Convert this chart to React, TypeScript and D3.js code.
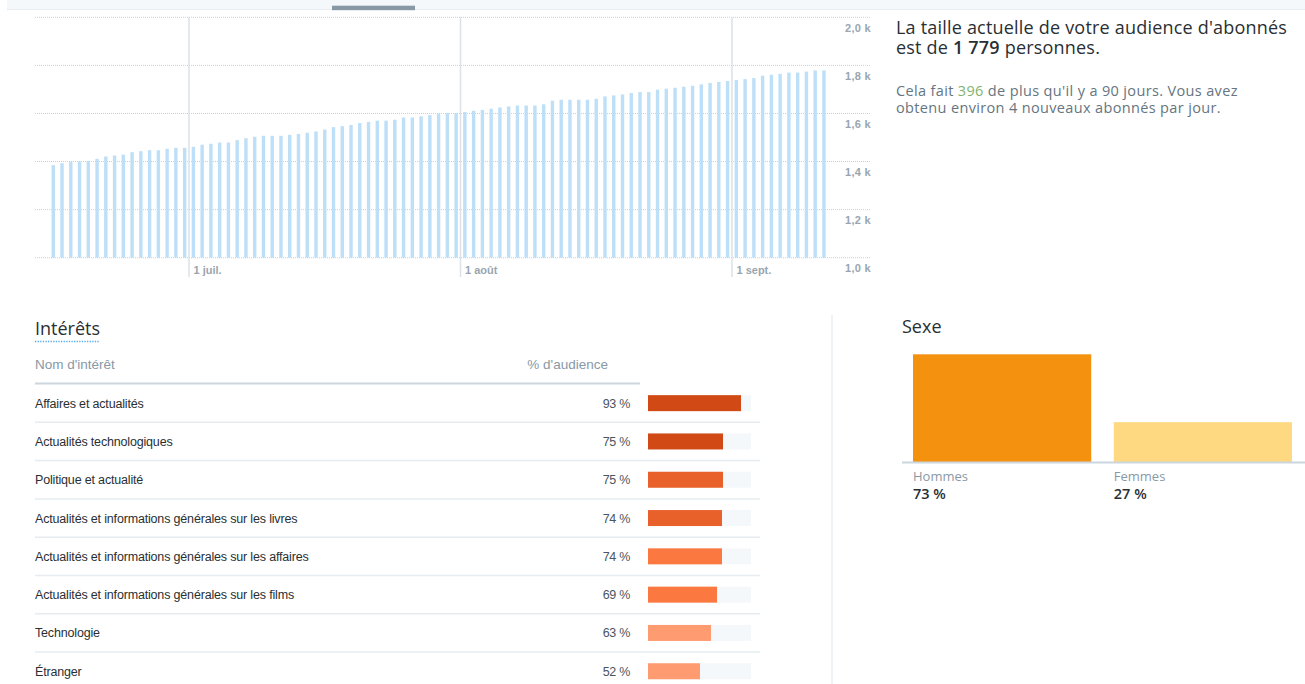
import React from "react";
import * as d3 from "d3";

// ---------- DATA ----------
const startDate = new Date(2015, 5, 15); // 15 juin
const followerCounts: number[] = [
  1385, 1393, 1399, 1399, 1403, 1411, 1421, 1425, 1429, 1439,
  1443, 1447, 1447, 1453, 1457, 1457, 1461, 1470, 1474, 1479,
  1479, 1489, 1497, 1503, 1507, 1507, 1507, 1511, 1515, 1520,
  1525, 1533, 1543, 1547, 1552, 1560, 1565, 1570, 1570, 1574,
  1583, 1583, 1588, 1593, 1599, 1602, 1602, 1606, 1611, 1615,
  1620, 1625, 1629, 1633, 1633, 1633, 1638, 1653, 1657, 1657,
  1657, 1657, 1661, 1671, 1675, 1679, 1685, 1689, 1689, 1699,
  1703, 1707, 1711, 1715, 1721, 1727, 1731, 1735, 1739, 1743,
  1747, 1757, 1761, 1765, 1770, 1770, 1774, 1779, 1779,
];
const yTicks: number[] = [1000, 1200, 1400, 1600, 1800, 2000];
const monthTicks: Date[] = [new Date(2015, 6, 1), new Date(2015, 7, 1), new Date(2015, 8, 1)];
const monthLabels: string[] = ["1 juil.", "1 août", "1 sept."];

const interestNames: string[] = [
  "Affaires et actualités",
  "Actualités technologiques",
  "Politique et actualité",
  "Actualités et informations générales sur les livres",
  "Actualités et informations générales sur les affaires",
  "Actualités et informations générales sur les films",
  "Technologie",
  "Étranger",
];
const interestPct: number[] = [93, 75, 75, 74, 74, 69, 63, 52];

const genderLabels: string[] = ["Hommes", "Femmes"];
const genderPct: number[] = [73, 27];

// ---------- STYLE ----------
const interestColors = ["#d14a15", "#d14a15", "#e8602a", "#e8602a", "#fb7941", "#fb7941", "#ff9b71", "#ff9b71"];
const genderColors = ["#f4910f", "#ffd882"];
const sans = "'Open Sans', 'Noto Sans', sans-serif";
const arial = "'Liberation Sans', Arial, sans-serif";

export default function App() {
  const dates = followerCounts.map((_, i) => d3.timeDay.offset(startDate, i));
  const x = d3
    .scaleTime()
    .domain([startDate, d3.timeDay.offset(startDate, followerCounts.length)])
    .range([48.9, 828.3]);
  const y = d3.scaleLinear().domain([1000, 2000]).range([257.7, 17.3]);
  const dayW = x(d3.timeDay.offset(startDate, 1)) - x(startDate);
  const barW = 3.4;

  const fmtK = (v: number) => (v / 1000).toFixed(1).replace(".", ",") + " k";

  const rowBand = d3.scaleBand<string>().domain(interestNames).range([384, 384 + 8 * 38.3]);
  const pctX = d3.scaleLinear().domain([0, 100]).range([0, 100]);

  const gX = d3.scaleBand<string>().domain(genderLabels).range([913, 1292]).paddingInner(0.1125);
  const gY = d3.scaleLinear().domain([0, 73]).range([462, 354.3]);

  return (
    <svg
      width={1305}
      height={684}
      style={{ position: "absolute", left: 0, top: 0, background: "#fff" }}
    >
      {/* top strip */}
      <rect x={7} y={0} width={1298} height={9} fill="#f5f8fa" />
      <line x1={7} x2={1305} y1={9.5} y2={9.5} stroke="#e6ecf0" strokeWidth={1} />
      <rect x={332} y={5.7} width={83} height={4.5} fill="#8899a6" />

      {/* horizontal gridlines */}
      {yTicks.map((t) => (
        <line
          key={"g" + t}
          x1={35}
          x2={870}
          y1={y(t)}
          y2={y(t)}
          stroke="#c8d0d6"
          strokeWidth={1}
          strokeDasharray="1,1"
        />
      ))}
      {/* bars */}
      {followerCounts.map((v, i) => (
        <rect
          key={"b" + i}
          x={x(dates[i]) + dayW / 2 - barW / 2}
          y={y(v)}
          width={barW}
          height={y(1000) - y(v)}
          fill="#bddff7"
        />
      ))}
      {/* month lines */}
      {monthTicks.map((d, i) => (
        <g key={"m" + i}>
          <line x1={x(d)} x2={x(d)} y1={17} y2={277} stroke="#dbe2e8" strokeWidth={1.5} />
          <text x={x(d) + 4.5} y={274} fontFamily={arial} fontSize={11} fontWeight="bold" fill="#99a6b0">
            {monthLabels[i]}
          </text>
        </g>
      ))}
      {/* y labels */}
      {yTicks.map((t) => (
        <text
          key={"yl" + t}
          x={871}
          y={y(t) + 14.5}
          textAnchor="end"
          fontFamily={arial}
          fontSize={11}
          fontWeight="bold"
          letterSpacing={0.3}
          fill="#99a6b0"
        >
          {fmtK(t)}
        </text>
      ))}

      {/* right summary text */}
      <text fontFamily={sans} fontSize={18} letterSpacing={0.2} fill="#292f33">
        <tspan x={896} y={34}>La taille actuelle de votre audience d'abonnés</tspan>
        <tspan x={896} y={54}>
          est de <tspan fontWeight="600">1 779</tspan> personnes.
        </tspan>
      </text>
      <text fontFamily={sans} fontSize={14.5} letterSpacing={0.35} fill="#66757f">
        <tspan x={896} y={96}>
          Cela fait <tspan fill="#7fb36b">396</tspan> de plus qu'il y a 90 jours. Vous avez
        </tspan>
        <tspan x={896} y={113}>obtenu environ 4 nouveaux abonnés par jour.</tspan>
      </text>

      {/* Interests */}
      <text x={35} y={335} fontFamily={sans} fontSize={18} fill="#292f33">
        Intérêts
      </text>
      <line x1={35} x2={99} y1={341.5} y2={341.5} stroke="#55acee" strokeWidth={1.3} strokeDasharray="1.3,1.3" />
      <text x={35} y={368.5} fontFamily={arial} fontSize={13.5} fill="#8899a6">
        Nom d'intérêt
      </text>
      <text x={608} y={368.5} textAnchor="end" fontFamily={arial} fontSize={13.5} fill="#8899a6">
        % d'audience
      </text>
      <line x1={35} x2={640} y1={383.5} y2={383.5} stroke="#ccd6dd" strokeWidth={2} />
      {interestNames.map((n, i) => {
        const top = rowBand(n)!;
        const cy = top + rowBand.bandwidth() / 2;
        return (
          <g key={"r" + i}>
            {i < interestNames.length - 1 && (
              <line
                x1={35}
                x2={760}
                y1={top + rowBand.bandwidth()}
                y2={top + rowBand.bandwidth()}
                stroke="#e6ecf0"
                strokeWidth={1.5}
              />
            )}
            <text x={35} y={cy + 4.5} fontFamily={arial} fontSize={12.5} letterSpacing={-0.17} fill="#292f33">
              {n}
            </text>
            <text x={630} y={cy + 4.5} textAnchor="end" fontFamily={arial} fontSize={12.5} letterSpacing={-0.3} fill="#4a5561">
              {interestPct[i] + " %"}
            </text>
            <rect x={648} y={cy - 8} width={103} height={16} fill="#f5f8fa" />
            <rect x={648} y={cy - 8} width={pctX(interestPct[i])} height={16} fill={interestColors[i]} />
          </g>
        );
      })}

      {/* vertical divider */}
      <line x1={832} x2={832} y1={315} y2={684} stroke="#f0f3f6" strokeWidth={2} />

      {/* Sexe */}
      <text x={902} y={333} fontFamily={sans} fontSize={18} fill="#292f33">
        Sexe
      </text>
      {genderLabels.map((g, i) => (
        <g key={"s" + i}>
          <rect
            x={gX(g)!}
            y={gY(genderPct[i])}
            width={gX.bandwidth()}
            height={gY(0) - gY(genderPct[i])}
            fill={genderColors[i]}
          />
          <text x={gX(g)!} y={480.5} fontFamily={sans} fontSize={13} fill="#8899a6">
            {g}
          </text>
          <text x={gX(g)!} y={499} fontFamily={sans} fontSize={14.5} fontWeight="600" fill="#292f33">
            {genderPct[i] + " %"}
          </text>
        </g>
      ))}
      <line x1={902} x2={1305} y1={462.5} y2={462.5} stroke="#ccd6dd" strokeWidth={2} />
    </svg>
  );
}
